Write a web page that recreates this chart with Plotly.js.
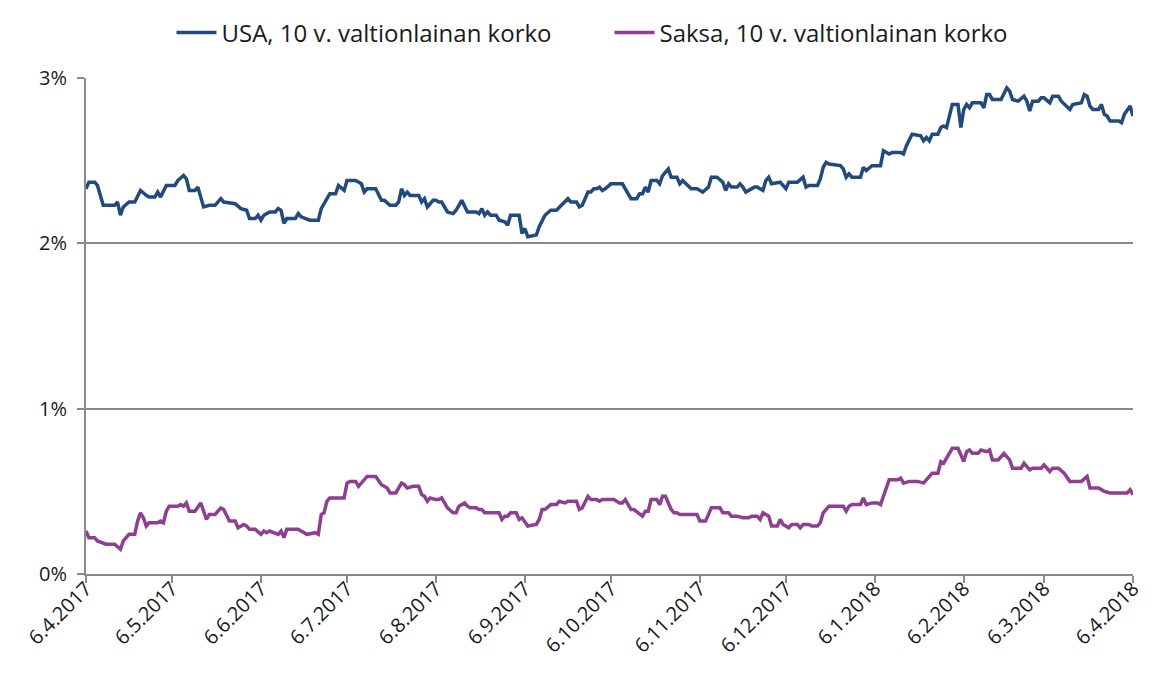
<!DOCTYPE html>
<html>
<head>
<meta charset="utf-8">
<script src="https://cdn.plot.ly/plotly-3.0.1.min.js"></script>
<style>
  html, body { margin: 0; padding: 0; background: #fff; }
  #chart { width: 1175px; height: 694px; }
</style>
</head>
<body>
<div id="chart"></div>
<script>
// days counted from 6.4.2017
const startDate = "2017-04-06";

const usaDays = [0, 1, 3, 4, 6, 10, 11, 12, 13, 15, 17, 19, 21, 22, 24, 25, 26, 28, 31, 32, 34, 35, 36, 38, 39, 41, 43, 45, 47, 48,
  52, 54, 56, 57, 59, 60, 61, 62, 64, 66, 67, 68, 69, 70, 73, 74, 75, 78, 81, 82, 85, 87, 88, 90, 91, 94, 96, 97, 98, 101,
  103, 104, 106, 108, 109, 110, 111, 112, 113, 116, 117, 118, 119, 121, 122, 123, 124, 126, 128, 129, 131, 133, 136, 137, 138, 139, 140, 141, 143, 144,
  146, 147, 148, 151, 152, 153, 154, 157, 158, 160, 162, 164, 168, 169, 171, 172, 173, 175, 176, 177, 178, 179, 180, 181, 183, 187, 188, 190, 192, 193,
  194, 195, 196, 197, 199, 200, 201, 203, 204, 206, 207, 208, 211, 213, 215, 217, 218, 220, 222, 223, 224, 225, 227, 228, 229, 230, 233, 234, 236, 237,
  238, 239, 242, 244, 245, 248, 250, 251, 252, 255, 256, 257, 258, 259, 263, 264, 265, 266, 267, 270, 271, 272, 274, 277, 278, 280, 281, 284, 285, 286,
  288, 291, 292, 293, 294, 295, 297, 298, 299, 300, 302, 304, 305, 306, 307, 308, 309, 312, 313, 314, 315, 316, 319, 321, 322, 323, 325, 327, 328, 329,
  330, 332, 333, 334, 336, 337, 339, 340, 343, 344, 347, 348, 349, 350, 351, 353, 354, 355, 356, 357, 360, 361, 362, 364, 365];

const usaYield = [2.33, 2.37, 2.37, 2.35, 2.23, 2.23, 2.25, 2.17, 2.22, 2.25, 2.25, 2.32, 2.29, 2.28, 2.28, 2.31, 2.28, 2.35, 2.35, 2.38, 2.41, 2.39, 2.32, 2.32, 2.34, 2.22, 2.23, 2.23, 2.27, 2.25,
  2.24, 2.21, 2.20, 2.15, 2.15, 2.17, 2.14, 2.17, 2.19, 2.19, 2.21, 2.20, 2.12, 2.15, 2.15, 2.18, 2.16, 2.14, 2.14, 2.21, 2.30, 2.30, 2.35, 2.32, 2.38, 2.38, 2.36, 2.31, 2.33, 2.33,
  2.26, 2.26, 2.23, 2.23, 2.25, 2.33, 2.29, 2.31, 2.29, 2.29, 2.25, 2.27, 2.22, 2.26, 2.26, 2.25, 2.25, 2.19, 2.18, 2.20, 2.26, 2.19, 2.19, 2.18, 2.21, 2.17, 2.19, 2.17, 2.17, 2.14,
  2.13, 2.11, 2.17, 2.17, 2.06, 2.09, 2.04, 2.05, 2.10, 2.17, 2.20, 2.20, 2.27, 2.25, 2.25, 2.22, 2.23, 2.31, 2.31, 2.33, 2.33, 2.34, 2.32, 2.33, 2.36, 2.36, 2.33, 2.27, 2.27, 2.30,
  2.30, 2.34, 2.31, 2.38, 2.38, 2.36, 2.41, 2.45, 2.40, 2.40, 2.36, 2.38, 2.33, 2.33, 2.31, 2.34, 2.40, 2.40, 2.37, 2.32, 2.36, 2.34, 2.34, 2.36, 2.34, 2.31, 2.34, 2.34, 2.32, 2.38,
  2.40, 2.36, 2.37, 2.33, 2.37, 2.37, 2.40, 2.34, 2.35, 2.35, 2.39, 2.46, 2.49, 2.48, 2.47, 2.45, 2.40, 2.42, 2.40, 2.40, 2.46, 2.44, 2.47, 2.47, 2.56, 2.54, 2.55, 2.55, 2.54, 2.59,
  2.66, 2.65, 2.62, 2.64, 2.62, 2.66, 2.66, 2.70, 2.71, 2.70, 2.84, 2.84, 2.70, 2.81, 2.84, 2.82, 2.85, 2.85, 2.82, 2.90, 2.90, 2.87, 2.87, 2.94, 2.92, 2.87, 2.86, 2.89, 2.86, 2.80,
  2.86, 2.86, 2.88, 2.88, 2.85, 2.89, 2.89, 2.86, 2.81, 2.84, 2.85, 2.90, 2.89, 2.83, 2.81, 2.81, 2.84, 2.78, 2.77, 2.74, 2.74, 2.73, 2.78, 2.83, 2.77];

const deDays = [0, 1, 3, 4, 7, 10, 12, 13, 15, 17, 18, 19, 20, 21, 22, 25, 26, 27, 28, 29, 32, 33, 34, 35, 36, 38, 40, 42, 43, 45,
  47, 48, 50, 52, 53, 55, 56, 57, 59, 61, 62, 63, 64, 66, 67, 68, 69, 70, 74, 75, 77, 80, 81, 82, 83, 84, 85, 90, 91, 92,
  94, 95, 96, 98, 101, 102, 103, 105, 106, 108, 110, 111, 112, 114, 116, 117, 118, 119, 120, 122, 123, 124, 125, 126, 128, 129, 130, 132, 133, 134,
  136, 137, 138, 139, 144, 145, 146, 147, 148, 150, 151, 152, 154, 157, 158, 159, 160, 162, 164, 165, 167, 168, 171, 172, 173, 175, 176, 178, 179, 180,
  184, 186, 187, 188, 190, 191, 194, 195, 196, 197, 199, 200, 201, 202, 204, 205, 206, 207, 209, 211, 213, 214, 216, 218, 221, 222, 224, 225, 227, 229,
  231, 232, 234, 235, 236, 238, 239, 241, 242, 243, 245, 246, 248, 249, 250, 252, 253, 255, 256, 257, 259, 264, 265, 266, 267, 270, 271, 272, 274, 276,
  277, 278, 280, 283, 284, 285, 287, 290, 292, 294, 295, 297, 298, 299, 300, 302, 304, 306, 307, 308, 309, 311, 312, 314, 315, 316, 318, 320, 321, 322,
  323, 326, 327, 329, 330, 333, 334, 336, 337, 339, 341, 343, 347, 349, 350, 353, 355, 357, 363, 364, 365];

const deYield = [0.26, 0.22, 0.22, 0.20, 0.18, 0.18, 0.15, 0.20, 0.24, 0.24, 0.32, 0.37, 0.34, 0.29, 0.31, 0.31, 0.32, 0.31, 0.38, 0.41, 0.41, 0.42, 0.41, 0.43, 0.38, 0.38, 0.43, 0.33, 0.36, 0.36,
  0.40, 0.39, 0.32, 0.32, 0.28, 0.30, 0.29, 0.27, 0.27, 0.24, 0.26, 0.25, 0.26, 0.25, 0.24, 0.26, 0.22, 0.27, 0.27, 0.26, 0.24, 0.25, 0.24, 0.36, 0.37, 0.44, 0.46, 0.46, 0.55, 0.56,
  0.56, 0.53, 0.55, 0.59, 0.59, 0.56, 0.54, 0.52, 0.49, 0.49, 0.55, 0.54, 0.52, 0.53, 0.53, 0.48, 0.47, 0.44, 0.46, 0.45, 0.45, 0.46, 0.43, 0.40, 0.37, 0.37, 0.41, 0.43, 0.41, 0.40,
  0.40, 0.39, 0.39, 0.37, 0.37, 0.33, 0.35, 0.35, 0.37, 0.37, 0.33, 0.34, 0.29, 0.30, 0.33, 0.39, 0.39, 0.42, 0.42, 0.44, 0.43, 0.44, 0.44, 0.39, 0.40, 0.47, 0.45, 0.45, 0.44, 0.45,
  0.45, 0.43, 0.43, 0.45, 0.39, 0.39, 0.35, 0.38, 0.38, 0.45, 0.45, 0.42, 0.47, 0.47, 0.39, 0.37, 0.37, 0.36, 0.36, 0.36, 0.36, 0.32, 0.32, 0.40, 0.40, 0.37, 0.37, 0.35, 0.35, 0.34,
  0.34, 0.35, 0.35, 0.33, 0.37, 0.35, 0.29, 0.29, 0.33, 0.30, 0.28, 0.30, 0.30, 0.28, 0.30, 0.30, 0.29, 0.29, 0.31, 0.37, 0.41, 0.41, 0.38, 0.41, 0.42, 0.42, 0.46, 0.42, 0.43, 0.43,
  0.42, 0.47, 0.57, 0.57, 0.58, 0.55, 0.56, 0.56, 0.55, 0.59, 0.61, 0.61, 0.68, 0.67, 0.70, 0.76, 0.76, 0.68, 0.74, 0.75, 0.73, 0.73, 0.75, 0.74, 0.75, 0.69, 0.69, 0.73, 0.71, 0.69,
  0.64, 0.64, 0.67, 0.63, 0.64, 0.64, 0.66, 0.62, 0.64, 0.64, 0.61, 0.56, 0.56, 0.59, 0.52, 0.52, 0.50, 0.49, 0.49, 0.51, 0.48];

const tickDates = ["2017-04-06", "2017-05-06", "2017-06-06", "2017-07-06", "2017-08-06", "2017-09-06", "2017-10-06",
  "2017-11-06", "2017-12-06", "2018-01-06", "2018-02-06", "2018-03-06", "2018-04-06"];
const tickLabels = ["6.4.2017", "6.5.2017", "6.6.2017", "6.7.2017", "6.8.2017", "6.9.2017", "6.10.2017",
  "6.11.2017", "6.12.2017", "6.1.2018", "6.2.2018", "6.3.2018", "6.4.2018"];
const yTicks = [0, 1, 2, 3];
const yLabels = ["0%", "1%", "2%", "3%"];

const seriesNames = ["USA, 10 v. valtionlainan korko", "Saksa, 10 v. valtionlainan korko"];

function toDates(days) {
  const base = new Date(startDate + "T00:00:00Z").getTime();
  return days.map(d => new Date(base + d * 86400000).toISOString().slice(0, 10));
}

const font = "'Open Sans', Lato, sans-serif";
const grey = "#8a8a8a";

const traces = [
  {
    x: toDates(usaDays),
    y: usaYield,
    mode: "lines",
    name: seriesNames[0],
    line: { color: "#224a7d", width: 3.5 }
  },
  {
    x: toDates(deDays),
    y: deYield,
    mode: "lines",
    name: seriesNames[1],
    line: { color: "#8f3f92", width: 3.5 }
  }
];

const layout = {
  width: 1175,
  height: 694,
  margin: { t: 78, r: 42, b: 120, l: 86 },
  paper_bgcolor: "#fff",
  plot_bgcolor: "#fff",
  font: { family: font, color: "#1a1a1a", size: 20 },
  showlegend: true,
  legend: {
    orientation: "h",
    x: 0.5,
    xanchor: "center",
    y: 0.985,
    yanchor: "top",
    yref: "container",
    font: { size: 24, family: font, color: "#1a1a1a" },
    itemwidth: 40,
    entrywidth: 383,
    traceorder: "normal"
  },
  xaxis: {
    type: "date",
    range: ["2017-04-06", "2018-04-06"],
    tickvals: tickDates,
    ticktext: tickLabels,
    tickangle: -45,
    tickfont: { size: 20 },
    ticklabelstandoff: -14,
    showgrid: false,
    showline: true,
    linecolor: grey,
    linewidth: 2,
    ticks: "outside",
    ticklen: 7,
    tickwidth: 2,
    tickcolor: grey,
    zeroline: false
  },
  yaxis: {
    range: [0, 3],
    tickvals: yTicks,
    ticktext: yLabels,
    tickfont: { size: 20 },
    ticklabelstandoff: 6,
    showgrid: true,
    gridcolor: grey,
    gridwidth: 2,
    showline: true,
    linecolor: grey,
    linewidth: 2,
    ticks: "outside",
    ticklen: 7,
    tickwidth: 2,
    tickcolor: grey,
    zeroline: false
  }
};

Plotly.newPlot("chart", traces, layout, { displayModeBar: false, staticPlot: true });
</script>
</body>
</html>
